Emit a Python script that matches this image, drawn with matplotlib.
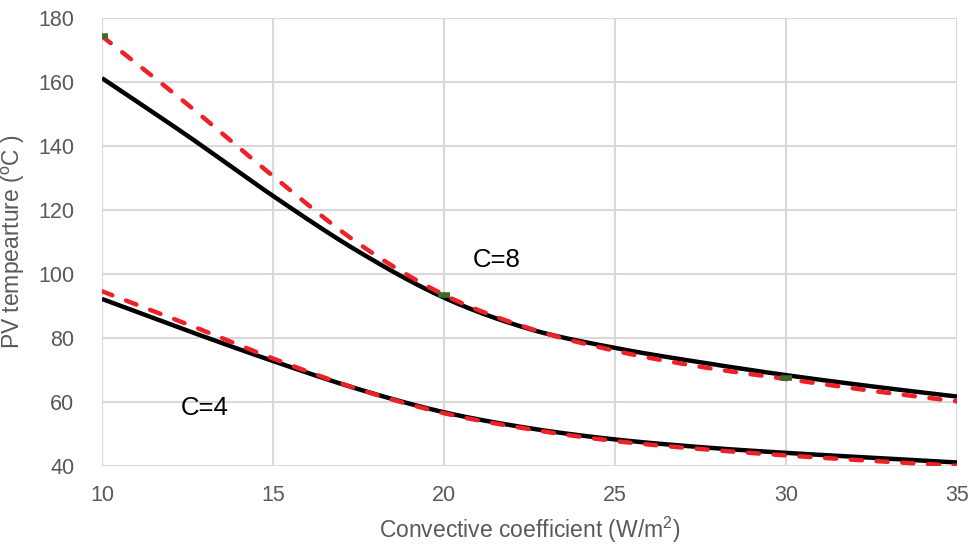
import numpy as np
import matplotlib
matplotlib.use("Agg")
import matplotlib.pyplot as plt

plt.rcParams['font.family'] = ['Liberation Sans', 'DejaVu Sans']
plt.rcParams['mathtext.fontset'] = 'custom'
plt.rcParams['mathtext.rm'] = 'Liberation Sans'
plt.rcParams['mathtext.it'] = 'Liberation Sans:italic'

# Convective coefficient (W/m2)
h = [10, 12.5, 15, 17.5, 20, 22.5, 25, 27.5, 30, 32.5, 35]

# PV temperature (oC), concentration ratio C=8
c8_model = [161.2, 143.2, 124.4, 107.0, 92.6, 82.8, 76.9, 72.4, 68.4, 64.9, 61.7]
c8_fit = [174.3, 153.0, 130.6, 109.5, 93.5, 83.0, 76.0, 71.0, 67.2, 63.5, 60.2]

# PV temperature (oC), concentration ratio C=4
c4_model = [92.2, 82.3, 72.8, 64.0, 56.8, 51.8, 48.3, 45.9, 44.1, 42.6, 41.1]
c4_fit = [94.6, 84.3, 73.6, 64.0, 56.5, 51.5, 47.8, 45.3, 43.3, 41.6, 40.1]

# Sampled points (C=8)
pts_h = [10, 20, 30]
pts_t = [174.4, 93.3, 67.6]

x_ticks = [10, 15, 20, 25, 30, 35]
y_ticks = [40, 60, 80, 100, 120, 140, 160, 180]


def smooth(x, y, n=20):
    """Catmull-Rom smoothing through the given points."""
    x = np.asarray(x, float)
    y = np.asarray(y, float)
    px = np.concatenate([[2 * x[0] - x[1]], x, [2 * x[-1] - x[-2]]])
    py = np.concatenate([[2 * y[0] - y[1]], y, [2 * y[-1] - y[-2]]])
    xs, ys = [], []
    t = np.linspace(0, 1, n, endpoint=False)
    for i in range(1, len(px) - 2):
        for arr, out in ((px, xs), (py, ys)):
            p0, p1, p2, p3 = arr[i - 1], arr[i], arr[i + 1], arr[i + 2]
            out.extend(0.5 * ((2 * p1) + (-p0 + p2) * t
                              + (2 * p0 - 5 * p1 + 4 * p2 - p3) * t ** 2
                              + (-p0 + 3 * p1 - 3 * p2 + p3) * t ** 3))
    xs.append(x[-1])
    ys.append(y[-1])
    return np.array(xs), np.array(ys)


fig = plt.figure(figsize=(9.71, 5.47), dpi=100)
ax = fig.add_axes([102 / 971, 1 - 466 / 547, (957 - 102) / 971, (466 - 18) / 547])

black = dict(color='black', lw=3.2, solid_capstyle='butt', zorder=3)
red = dict(color='#ee2127', lw=3.2, dashes=(2.5, 3.3), dash_capstyle='round', zorder=4)

for ys in (c8_model, c4_model):
    ax.plot(*smooth(h, ys), **black)
for ys in (c8_fit, c4_fit):
    ax.plot(*smooth(h, ys), **red)

ax.plot(pts_h, pts_t, ls='none', marker='_', ms=9, mew=4, color='#3e6a2e', zorder=5)

ax.text(21.55, 104.5, 'C=8', fontsize=18.5, ha='center', va='center', color='black')
ax.text(12.99, 58.0, 'C=4', fontsize=18.5, ha='center', va='center', color='black')

ax.set_xlim(10, 35)
ax.set_ylim(40, 180)
ax.set_xticks(x_ticks)
ax.set_yticks(y_ticks)
ax.grid(True, color='#d9d9d9', lw=1.5)
ax.set_axisbelow(True)
for s in ax.spines.values():
    s.set_visible(False)
ax.tick_params(length=0, labelsize=15.5, colors='#595959')
ax.tick_params(axis='y', pad=20)
ax.tick_params(axis='x', pad=14)

ax.set_xlabel('Convective coefficient (W/m$^2$)', fontsize=16.5, color='#595959', labelpad=6)
ax.set_ylabel('PV tempearture ($^{\\rm o}$C )', fontsize=16.5, color='#595959', labelpad=8)

fig.savefig('out.png', dpi=100)
